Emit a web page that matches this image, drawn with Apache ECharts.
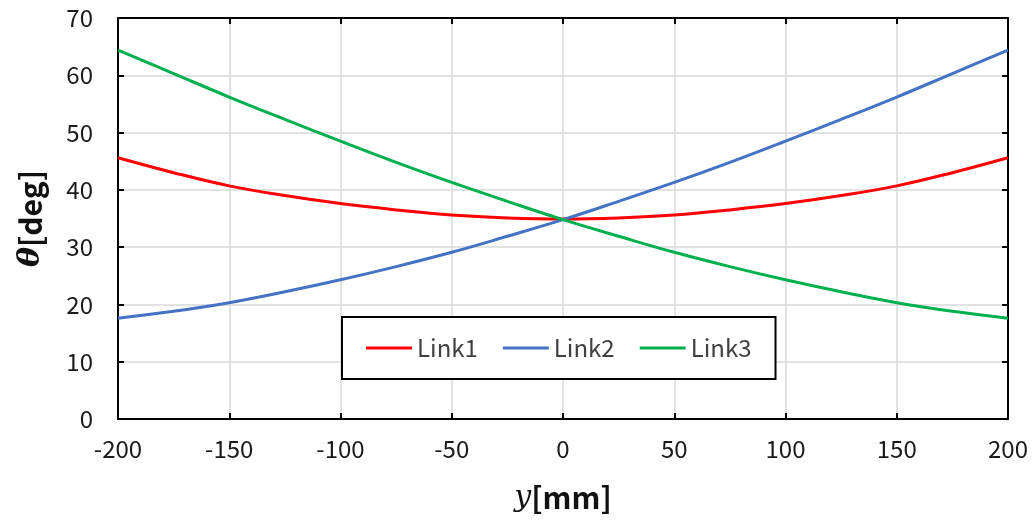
<!DOCTYPE html>
<html>
<head>
<meta charset="utf-8">
<script src="https://cdn.jsdelivr.net/npm/echarts@6/dist/echarts.min.js"></script>
<style>
html,body{margin:0;padding:0;background:#fff;}
#chart{width:1032px;height:526px;}
</style>
</head>
<body>
<div id="chart"></div>
<script>
// Link angles θ [deg] against slider position y [mm]
const positions = [-200,-175,-150,-125,-100,-75,-50,-25,0,25,50,75,100,125,150,175,200];
const link1 = [45.6,43.0,40.7,39.0,37.6,36.5,35.6,35.1,34.9,35.1,35.6,36.5,37.6,39.0,40.7,43.0,45.6];
const link2 = [17.6,18.8,20.3,22.2,24.3,26.6,29.1,31.9,34.8,38.0,41.3,44.8,48.5,52.3,56.2,60.3,64.4];
const link3 = [64.4,60.3,56.2,52.3,48.5,44.8,41.3,38.0,34.8,31.9,29.1,26.6,24.3,22.2,20.3,18.8,17.6];
const seriesNames = ['Link1','Link2','Link3'];
const seriesColors = ['#ff0000','#4472c4','#00b050'];

const labelFont = '"Noto Sans CJK JP", "Noto Sans", sans-serif';
const pairs = arr => positions.map((p, i) => [p, arr[i]]);

const frameAxis = {
  axisLine: { show: true, onZero: false, lineStyle: { color: '#000', width: 2 } },
  axisTick: { show: true, inside: true, length: 6, lineStyle: { color: '#000', width: 2 } }
};

const chart = echarts.init(document.getElementById('chart'));
chart.setOption({
  animation: false,
  backgroundColor: '#fff',
  grid: { left: 118, right: 24, top: 18, bottom: 107, containLabel: false },
  legend: {
    left: 342, top: 317,
    width: 430,
    padding: [19, 24, 19, 24],
    borderColor: '#000', borderWidth: 2, backgroundColor: '#fff',
    icon: 'rect', itemWidth: 46, itemHeight: 3, itemGap: 25,
    textStyle: { fontFamily: labelFont, fontSize: 24, color: '#404040' },
    data: seriesNames
  },
  xAxis: [
    Object.assign({
      type: 'value', min: -200, max: 200, interval: 50, position: 'bottom',
      axisLabel: { fontFamily: labelFont, fontSize: 24, color: '#1a1a1a', margin: 18 },
      splitLine: { show: true, lineStyle: { color: '#d9d9d9', width: 1.5 } },
      name: '{a|y}{b|[mm]}', nameLocation: 'middle', nameGap: 64,
      nameTextStyle: {
        rich: {
          a: { fontFamily: '"DejaVu Serif", "Liberation Serif", serif', fontStyle: 'italic', fontSize: 30, color: '#111' },
          b: { fontFamily: labelFont, fontWeight: 'bold', fontSize: 30, color: '#111' }
        }
      }
    }, frameAxis),
    Object.assign({
      type: 'value', min: -200, max: 200, interval: 50, position: 'top',
      axisLabel: { show: false }, splitLine: { show: false }
    }, frameAxis)
  ],
  yAxis: [
    Object.assign({
      type: 'value', min: 0, max: 70, interval: 10, position: 'left',
      axisLabel: { fontFamily: labelFont, fontSize: 24, color: '#1a1a1a', margin: 25 },
      splitLine: { show: true, lineStyle: { color: '#d9d9d9', width: 1.5 } },
      name: '{a|θ}{b|[deg]}', nameLocation: 'middle', nameGap: 72, nameRotate: 90,
      nameTextStyle: {
        rich: {
          a: { fontFamily: '"DejaVu Serif", "Liberation Serif", serif', fontStyle: 'italic', fontWeight: 'bold', fontSize: 30, color: '#111' },
          b: { fontFamily: labelFont, fontWeight: 'bold', fontSize: 30, color: '#111' }
        }
      }
    }, frameAxis),
    Object.assign({
      type: 'value', min: 0, max: 70, interval: 10, position: 'right',
      axisLabel: { show: false }, splitLine: { show: false }
    }, frameAxis)
  ],
  series: [link1, link2, link3].map((arr, i) => ({
    name: seriesNames[i],
    type: 'line',
    xAxisIndex: 0, yAxisIndex: 0,
    data: pairs(arr),
    smooth: 0.4,
    showSymbol: false,
    symbol: 'none',
    color: seriesColors[i],
    lineStyle: { color: seriesColors[i], width: 3 },
    z: 3 + i
  }))
});
</script>
</body>
</html>
